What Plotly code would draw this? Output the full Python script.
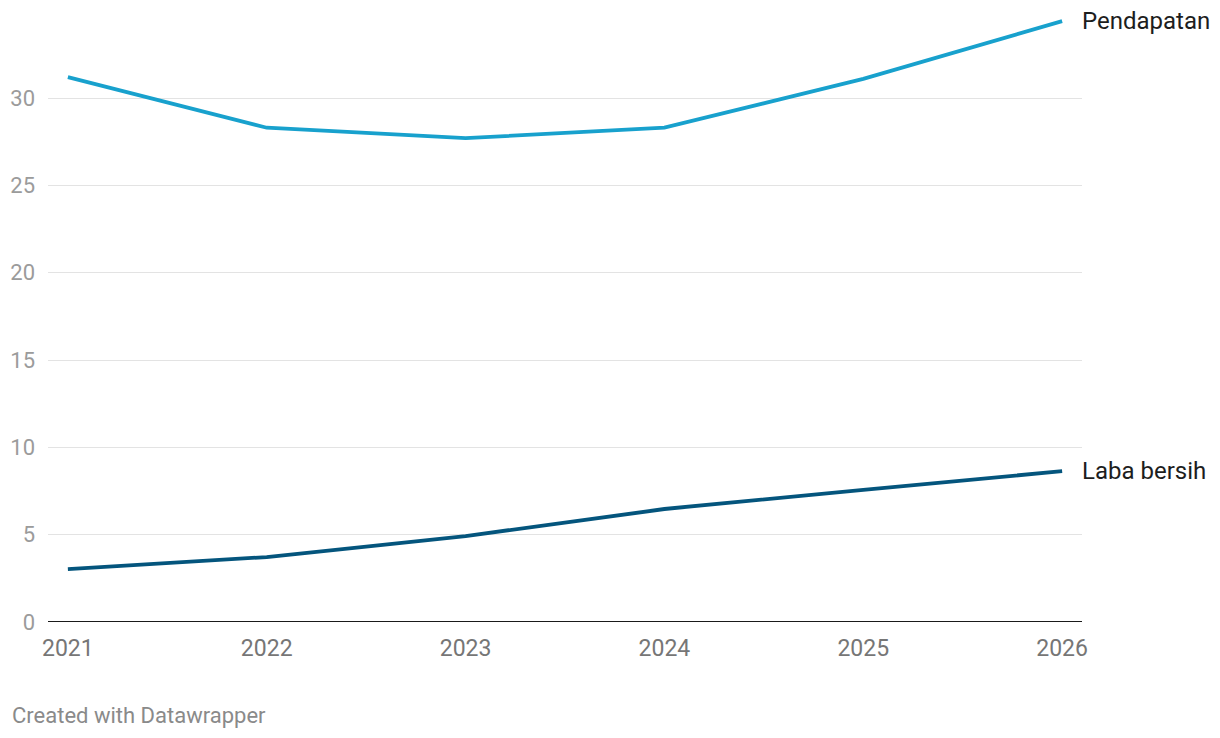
import plotly.graph_objects as go

years = [2021, 2022, 2023, 2024, 2025, 2026]
pendapatan = [31.2, 28.3, 27.7, 28.3, 31.1, 34.4]
laba_bersih = [3.03, 3.72, 4.92, 6.47, 7.56, 8.64]
series_names = ["Pendapatan", "Laba bersih"]
colors = ["#18a1cd", "#04557d"]
y_ticks = [0, 5, 10, 15, 20, 25, 30]

fig = go.Figure()
for name, vals, col in zip(series_names, [pendapatan, laba_bersih], colors):
    fig.add_trace(go.Scatter(x=years, y=vals, mode="lines", name=name,
                             line=dict(color=col, width=3.8), hoverinfo="skip"))
    fig.add_annotation(x=years[-1], y=vals[-1], text=name, showarrow=False,
                       xanchor="left", yanchor="middle", xshift=18,
                       font=dict(family="Roboto", size=24, color="#1d1d1d"))

fig.add_annotation(xref="paper", yref="paper", x=-0.0368, y=-0.152,
                   text="Created with Datawrapper", showarrow=False,
                   xanchor="left", yanchor="middle",
                   font=dict(family="Roboto", size=22, color="#8a8a8a"))

fig.update_layout(
    width=1220, height=738,
    margin=dict(l=48, r=138, t=10, b=116),
    paper_bgcolor="white", plot_bgcolor="white",
    showlegend=False,
    xaxis=dict(range=[2020.9, 2026.1], tickvals=years, ticktext=[str(y) for y in years],
               showgrid=False, zeroline=False, showline=False, ticks="",
               ticklabelstandoff=10,
               tickfont=dict(family="Roboto", size=23, color="#767676")),
    yaxis=dict(range=[0, 35.04], tickvals=y_ticks, showgrid=True, gridcolor="#e3e3e3",
               gridwidth=1, zeroline=False, showline=False, ticks="",
               ticklabelstandoff=12,
               tickfont=dict(family="Roboto", size=22, color="#9b9b9b")),
)
fig.add_shape(type="line", xref="paper", yref="y", x0=0, x1=1, y0=0, y1=0,
              line=dict(color="#1a1a1a", width=2))
fig.write_html("out.html", config={"displayModeBar": False},
               post_script="document.body.style.margin='0px';")
